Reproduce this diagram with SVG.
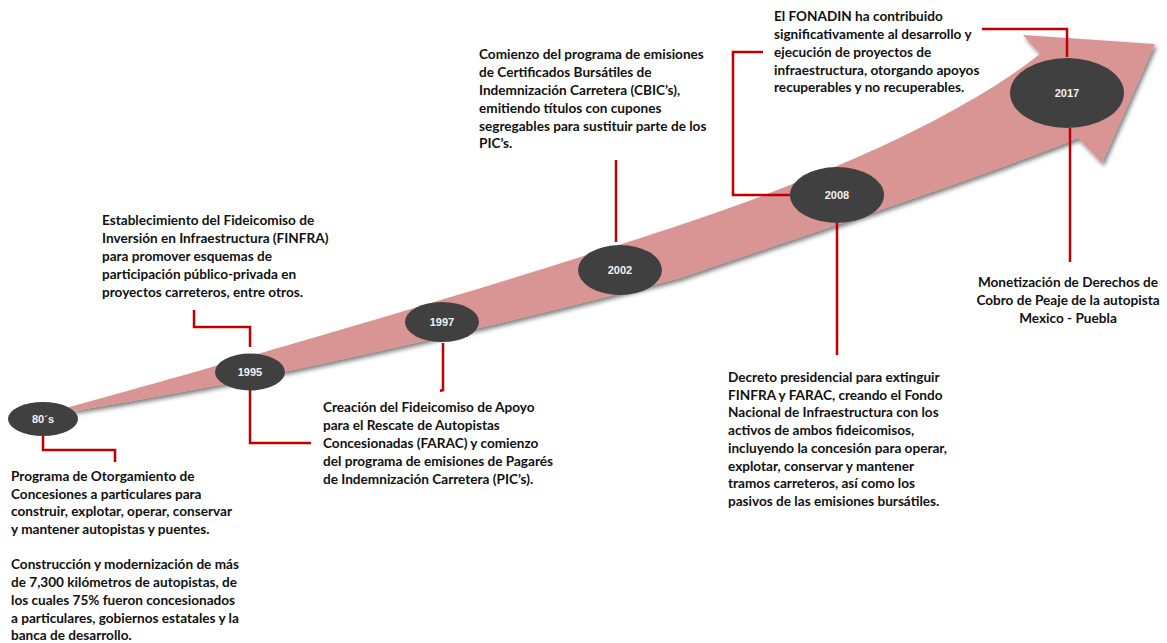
<svg xmlns="http://www.w3.org/2000/svg" width="1167" height="643" viewBox="0 0 1167 643">
<style>
.t{font-family:Lato,"Liberation Sans",sans-serif;font-weight:bold;font-size:13.6px;fill:#111}
.y{font-family:"Liberation Sans",Arial,sans-serif;font-weight:bold;font-size:11px;fill:#f2f2f2;text-anchor:middle}
.e{fill:#404040}
.c{fill:none;stroke:#c00000;stroke-width:2.5}
</style>
<defs>
<filter id="sh" x="-5%" y="-10%" width="115%" height="130%">
<feDropShadow dx="2" dy="3" stdDeviation="2" flood-color="#000" flood-opacity="0.5"/>
</filter>
</defs>
<rect width="1167" height="643" fill="#fff"/>
<path id="arrow" d="M40,415 C200,372 500,285 680,225 C800,185 950,125 1040,54 L1023,35 L1155,44 L1102,163 L1078,138 C1000,170 880,210 680,278 C500,325 250,385 40,416 Z" fill="#d99594" filter="url(#sh)"/>
<g id="connectors">
<path class="c" d="M43,436 V450 H115 V462"/>
<path class="c" d="M194,310 V327 H250 V347"/>
<path class="c" d="M250,390 V443 H311"/>
<path class="c" d="M443,343 V390 L440,391"/>
<path class="c" d="M616,160 V242"/>
<path class="c" d="M763,52 H733 V195 H790"/>
<path class="c" d="M837,223 V355"/>
<path class="c" d="M982,29 H1067 V57"/>
<path class="c" d="M1070,128 V262"/>
</g>
<g id="n80"><ellipse class="e" cx="43" cy="419" rx="35" ry="17"/><text class="y" x="43" y="423">80´s</text></g>
<g id="n1995"><ellipse class="e" cx="250" cy="372" rx="35" ry="18.5"/><text class="y" x="250" y="376">1995</text></g>
<g id="n1997"><ellipse class="e" cx="442" cy="322" rx="37" ry="20"/><text class="y" x="442" y="326">1997</text></g>
<g id="n2002"><ellipse class="e" cx="620" cy="270" rx="42" ry="25"/><text class="y" x="620" y="274">2002</text></g>
<g id="n2008"><ellipse class="e" cx="837" cy="195" rx="47" ry="28"/><text class="y" x="837" y="199">2008</text></g>
<g id="n2017"><ellipse class="e" cx="1067" cy="93" rx="57" ry="35"/><text class="y" x="1067" y="97">2017</text></g>
<g id="txt80">
<text class="t" x="11" y="481">Programa de Otorgamiento de</text>
<text class="t" x="11" y="499">Concesiones a particulares para</text>
<text class="t" x="11" y="516">construir, explotar, operar, conservar</text>
<text class="t" x="11" y="534">y mantener autopistas y puentes.</text>
<text class="t" x="11" y="569">Construcción y modernización de más</text>
<text class="t" x="11" y="587">de 7,300 kilómetros de autopistas, de</text>
<text class="t" x="11" y="605">los cuales 75% fueron concesionados</text>
<text class="t" x="11" y="623">a particulares, gobiernos estatales y la</text>
<text class="t" x="11" y="640">banca de desarrollo.</text>
</g>
<g id="txt1995">
<text class="t" x="102" y="225">Establecimiento del Fideicomiso de</text>
<text class="t" x="102" y="243">Inversión en Infraestructura (FINFRA)</text>
<text class="t" x="102" y="261">para promover esquemas de</text>
<text class="t" x="102" y="279">participación público-privada en</text>
<text class="t" x="102" y="297">proyectos carreteros, entre otros.</text>
</g>
<g id="txt1997">
<text class="t" x="323" y="412">Creación del Fideicomiso de Apoyo</text>
<text class="t" x="323" y="430">para el Rescate de Autopistas</text>
<text class="t" x="323" y="448">Concesionadas (FARAC) y comienzo</text>
<text class="t" x="323" y="466">del programa de emisiones de Pagarés</text>
<text class="t" x="323" y="484">de Indemnización Carretera (PIC’s).</text>
</g>
<g id="txt2002">
<text class="t" x="479" y="59">Comienzo del programa de emisiones</text>
<text class="t" x="479" y="77">de Certificados Bursátiles de</text>
<text class="t" x="479" y="95">Indemnización Carretera (CBIC’s),</text>
<text class="t" x="479" y="113">emitiendo títulos con cupones</text>
<text class="t" x="479" y="131">segregables para sustituir parte de los</text>
<text class="t" x="479" y="148">PIC’s.</text>
</g>
<g id="txt2008a">
<text class="t" x="774" y="21">El FONADIN ha contribuido</text>
<text class="t" x="774" y="39">significativamente al desarrollo y</text>
<text class="t" x="774" y="57">ejecución de proyectos de</text>
<text class="t" x="774" y="75">infraestructura, otorgando apoyos</text>
<text class="t" x="774" y="92">recuperables y no recuperables.</text>
</g>
<g id="txt2008b">
<text class="t" x="728" y="382">Decreto presidencial para extinguir</text>
<text class="t" x="728" y="400">FINFRA y FARAC, creando el Fondo</text>
<text class="t" x="728" y="417">Nacional de Infraestructura con los</text>
<text class="t" x="728" y="435">activos de ambos fideicomisos,</text>
<text class="t" x="728" y="453">incluyendo la concesión para operar,</text>
<text class="t" x="728" y="471">explotar, conservar y mantener</text>
<text class="t" x="728" y="488">tramos carreteros, así como los</text>
<text class="t" x="728" y="506">pasivos de las emisiones bursátiles.</text>
</g>
<g id="txt2017" text-anchor="middle">
<text class="t" x="1068" y="287">Monetización de Derechos de</text>
<text class="t" x="1068" y="305">Cobro de Peaje de la autopista</text>
<text class="t" x="1068" y="323">Mexico - Puebla</text>
</g>
</svg>
